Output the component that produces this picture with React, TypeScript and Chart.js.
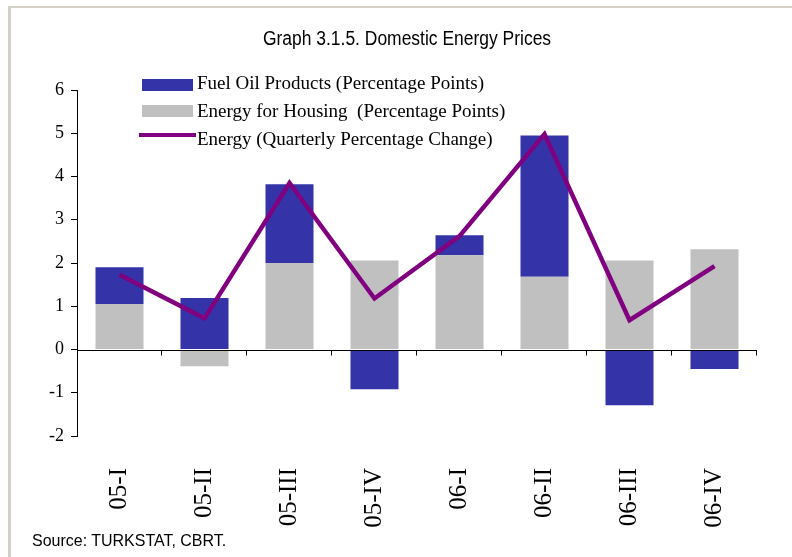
import React, { useEffect, useRef } from 'react';
import { Chart, registerables } from 'chart.js';

Chart.register(...registerables);

const TITLE = 'Graph 3.1.5. Domestic Energy Prices';
const SOURCE = 'Source: TURKSTAT, CBRT.';
const categories = ['05-I', '05-II', '05-III', '05-IV', '06-I', '06-II', '06-III', '06-IV'];
const fuelOil = [0.85, 1.19, 1.82, -0.92, 0.46, 3.27, -1.29, -0.45];
const housing = [1.05, -0.39, 2.0, 2.06, 2.18, 1.68, 2.06, 2.32];
const energy = [1.73, 0.72, 3.85, 1.18, 2.62, 4.98, 0.68, 1.93];
const yMin = -2;
const yMax = 6;
const yStep = 1;
const legendLabels = [
  'Fuel Oil Products (Percentage Points)',
  'Energy for Housing  (Percentage Points)',
  'Energy (Quarterly Percentage Change)',
];

const BLUE = '#3434A8';
const GRAY = '#C0C0C0';
const PURPLE = '#800080';
const SERIF = '"Liberation Serif", "Times New Roman", serif';
const SANS = '"Liberation Sans", Arial, sans-serif';

const zeroAxisPlugin = {
  id: 'zeroAxis',
  afterDatasetsDraw(chart: any) {
    const { ctx } = chart;
    const x = chart.scales.x;
    const y = chart.scales.y;
    const y0 = Math.round(y.getPixelForValue(0)) + 0.5;
    ctx.save();
    ctx.strokeStyle = '#000';
    ctx.lineWidth = 1;
    ctx.beginPath();
    ctx.moveTo(x.left, y0);
    ctx.lineTo(x.right, y0);
    const n = categories.length;
    for (let k = 1; k <= n; k++) {
      const px = Math.round(x.left + (k * (x.right - x.left)) / n) - 0.5;
      ctx.moveTo(px, y0);
      ctx.lineTo(px, y0 + 5);
    }
    ctx.stroke();
    ctx.restore();
  },
};

export default function App() {
  const ref = useRef<HTMLCanvasElement | null>(null);

  useEffect(() => {
    if (!ref.current) return;
    const chart = new Chart(ref.current, {
      type: 'bar',
      data: {
        labels: categories,
        datasets: [
          {
            type: 'bar',
            label: legendLabels[1],
            data: housing,
            backgroundColor: GRAY,
            stack: 'bars',
            order: 2,
            barPercentage: 0.565,
            categoryPercentage: 1,
          },
          {
            type: 'bar',
            label: legendLabels[0],
            data: fuelOil,
            backgroundColor: BLUE,
            stack: 'bars',
            order: 2,
            barPercentage: 0.565,
            categoryPercentage: 1,
          },
          {
            type: 'line',
            label: legendLabels[2],
            data: energy,
            borderColor: PURPLE,
            backgroundColor: PURPLE,
            borderWidth: 4.5,
            pointRadius: 0,
            tension: 0,
            stack: 'line',
            order: 1,
          },
        ] as any,
      },
      options: {
        animation: false,
        responsive: false,
        maintainAspectRatio: false,
        layout: { padding: { left: 0, top: 90, right: 35, bottom: 0 } },
        plugins: {
          legend: { display: false },
          title: { display: false },
          tooltip: { enabled: false },
        },
        scales: {
          x: {
            stacked: true,
            grid: { display: false },
            border: { display: false },
            ticks: {
              autoSkip: false,
              maxRotation: 90,
              minRotation: 90,
              padding: 24,
              color: '#000',
              font: { family: SERIF, size: 25 },
            },
            afterFit: (s: any) => {
              s.height = 121;
            },
          },
          y: {
            stacked: true,
            min: yMin,
            max: yMax,
            ticks: {
              stepSize: yStep,
              color: '#000',
              padding: 7,
              font: { family: SERIF, size: 18 },
            },
            grid: {
              color: 'transparent',
              tickColor: '#000',
              tickLength: 6,
              lineWidth: 1,
            },
            border: { display: true, color: '#000', width: 1 },
            afterFit: (s: any) => {
              s.width = 77;
            },
          },
        },
      } as any,
      plugins: [zeroAxisPlugin],
    });
    return () => chart.destroy();
  }, []);

  const legendRow = (i: number, top: number) => (
    <div
      key={i}
      style={{
        position: 'absolute',
        left: 197,
        top,
        fontFamily: SERIF,
        fontSize: 19,
        lineHeight: '19px',
        color: '#000',
        whiteSpace: 'pre',
      }}
    >
      {legendLabels[i]}
    </div>
  );

  return (
    <div style={{ position: 'fixed', left: 0, top: 0, width: 792, height: 557, background: '#fff', overflow: 'hidden' }}>
      <div
        style={{
          position: 'absolute',
          left: 8,
          top: 6,
          width: 784,
          height: 551,
          borderLeft: '3px solid #D4D0C8',
          borderTop: '2px solid #D4D0C8',
          boxSizing: 'border-box',
        }}
      />
      <canvas ref={ref} width={792} height={557} style={{ position: 'absolute', left: 0, top: 0, width: 792, height: 557 }} />
      <div
        style={{
          position: 'absolute',
          left: 0,
          width: 814,
          top: 28,
          textAlign: 'center',
          fontFamily: SANS,
          fontSize: 20,
          lineHeight: '20px',
          color: '#000',
          transform: 'scaleX(0.873)',
          transformOrigin: '407px 50%',
        }}
      >
        {TITLE}
      </div>
      <div style={{ position: 'absolute', left: 142, top: 79, width: 51, height: 12, background: BLUE }} />
      <div style={{ position: 'absolute', left: 142, top: 105, width: 51, height: 12, background: GRAY }} />
      <div style={{ position: 'absolute', left: 139, top: 133, width: 57, height: 4, background: PURPLE }} />
      {legendRow(0, 73)}
      {legendRow(1, 101)}
      {legendRow(2, 129)}
      <div
        style={{
          position: 'absolute',
          left: 32,
          top: 532,
          fontFamily: SANS,
          fontSize: 17,
          lineHeight: '17px',
          color: '#000',
          transform: 'scaleX(0.94)',
          transformOrigin: '0 50%',
        }}
      >
        {SOURCE}
      </div>
    </div>
  );
}
